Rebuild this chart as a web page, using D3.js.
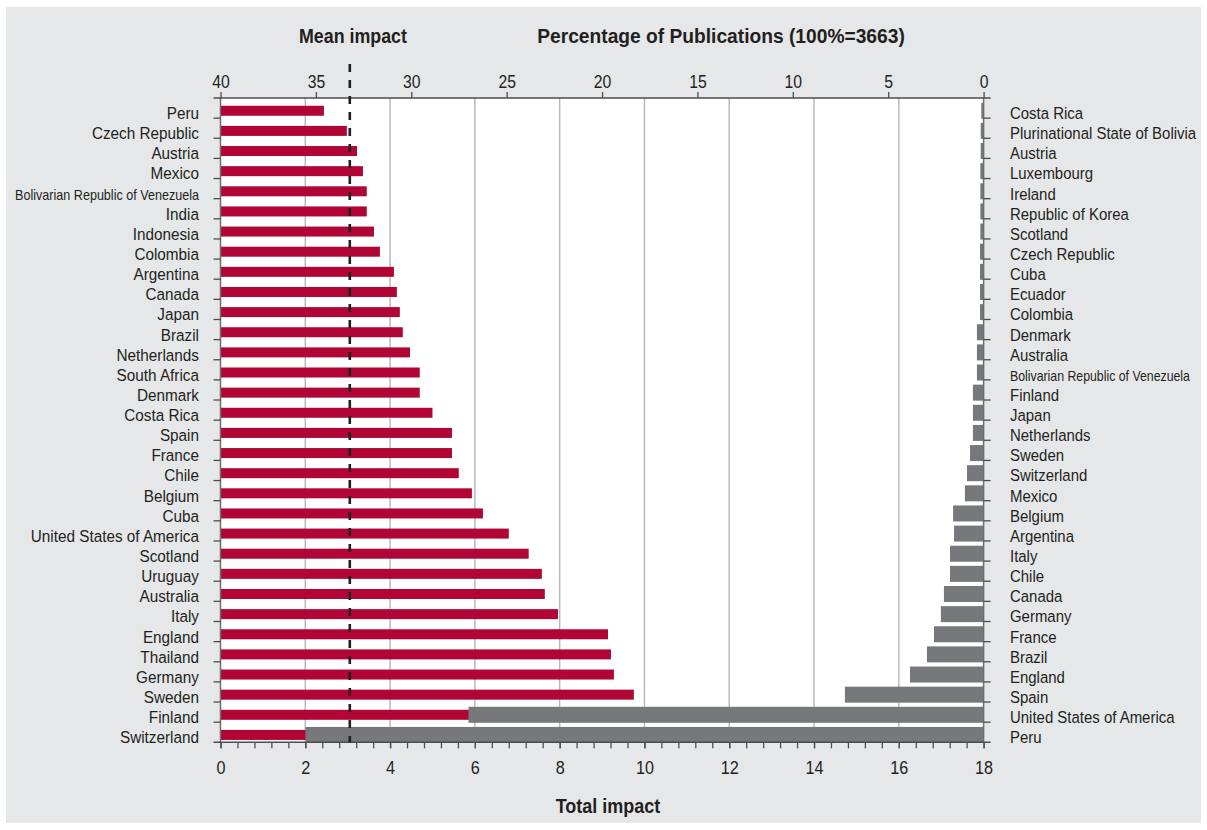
<!DOCTYPE html>
<html>
<head>
<meta charset="utf-8">
<script src="https://cdn.jsdelivr.net/npm/d3@7"></script>
<style>
  body { margin: 0; background: #fff; }
  text { font-family: "Liberation Sans", Arial, Helvetica, sans-serif; fill: #231f20; }
</style>
</head>
<body>
<svg id="chart" width="1207" height="830"></svg>
<script>
// left side: total impact per country (red bars)
var impactCountries = ["Peru", "Czech Republic", "Austria", "Mexico", "Bolivarian Republic of Venezuela", "India",
  "Indonesia", "Colombia", "Argentina", "Canada", "Japan", "Brazil", "Netherlands", "South Africa", "Denmark",
  "Costa Rica", "Spain", "France", "Chile", "Belgium", "Cuba", "United States of America", "Scotland", "Uruguay",
  "Australia", "Italy", "England", "Thailand", "Germany", "Sweden", "Finland", "Switzerland"];
var totalImpact = [2.44, 2.98, 3.22, 3.36, 3.45, 3.45, 3.62, 3.76, 4.09, 4.16, 4.23, 4.30, 4.47, 4.70, 4.70,
  5.00, 5.46, 5.46, 5.62, 5.93, 6.19, 6.80, 7.27, 7.58, 7.65, 7.96, 9.14, 9.21, 9.28, 9.75, 10.2, 10.9];

// right side: share of publications (grey bars)
var shareCountries = ["Costa Rica", "Plurinational State of Bolivia", "Austria", "Luxembourg", "Ireland",
  "Republic of Korea", "Scotland", "Czech Republic", "Cuba", "Ecuador", "Colombia", "Denmark", "Australia",
  "Bolivarian Republic of Venezuela", "Finland", "Japan", "Netherlands", "Sweden", "Switzerland", "Mexico",
  "Belgium", "Argentina", "Italy", "Chile", "Canada", "Germany", "France", "Brazil", "England", "Spain",
  "United States of America", "Peru"];
var pubShare = [0.12, 0.15, 0.15, 0.17, 0.17, 0.17, 0.17, 0.19, 0.19, 0.19, 0.19, 0.35, 0.35, 0.35, 0.56,
  0.56, 0.56, 0.71, 0.87, 0.98, 1.60, 1.55, 1.76, 1.76, 2.08, 2.24, 2.60, 2.97, 3.86, 7.27, 27.0, 35.55];

var meanImpact = 3.05;
var impactTicks = [0, 2, 4, 6, 8, 10, 12, 14, 16, 18];
var shareTicks = [40, 35, 30, 25, 20, 15, 10, 5, 0];

var plot = {x0: 220.5, x1: 983.6, y0: 98, y1: 742.3};
var red = "#b00535", grey = "#77787b", ink = "#4d4d4f";

// squeeze text horizontally round its anchor (no condensed face installed)
function narrow(sel, k) {
  sel.attr("transform", function() {
    var x = +this.getAttribute("x") || 0;
    return "translate(" + x + ",0) scale(" + k + ",1) translate(" + (-x) + ",0)";
  });
}

var svg = d3.select("#chart");
svg.append("rect").attr("x", 6).attr("y", 7).attr("width", 1195).attr("height", 816).attr("fill", "#e6e7e8");
svg.append("rect").attr("x", plot.x0).attr("y", plot.y0)
  .attr("width", plot.x1 - plot.x0).attr("height", plot.y1 - plot.y0).attr("fill", "#fff");

var xImpact = d3.scaleLinear().domain([0, 18]).range([plot.x0, plot.x1]);
var xShare = d3.scaleLinear().domain([40, 0]).range([plot.x0, plot.x1]);
var yL = d3.scaleBand().domain(impactCountries).range([plot.y0, plot.y1]);
var yR = d3.scaleBand().domain(shareCountries).range([plot.y0, plot.y1]);
var bw = yL.bandwidth();

// grid
svg.append("g").selectAll("line").data(impactTicks.slice(1, -1)).enter().append("line")
  .attr("x1", function(d) { return xImpact(d); }).attr("x2", function(d) { return xImpact(d); })
  .attr("y1", plot.y0).attr("y2", plot.y1)
  .attr("stroke", "#b9babc").attr("stroke-width", 1.5);

// red bars
svg.append("g").selectAll("rect").data(impactCountries).enter().append("rect")
  .attr("x", xImpact(0))
  .attr("y", function(d) { return yL(d) + bw / 2 + 2.7 - 5; })
  .attr("width", function(d, i) { return xImpact(totalImpact[i]) - xImpact(0); })
  .attr("height", 10).attr("fill", red);

// grey bars on top
svg.append("g").selectAll("rect").data(shareCountries).enter().append("rect")
  .attr("x", function(d, i) { return xShare(pubShare[i]); })
  .attr("y", function(d) { return yR(d) + bw / 2 + 2.7 - 8; })
  .attr("width", function(d, i) { return xShare(0) - xShare(pubShare[i]); })
  .attr("height", 16).attr("fill", grey);

// side axis lines + boundary ticks
var bounds = d3.range(impactCountries.length + 1).map(function(i) { return plot.y0 + i * bw; });
[[plot.x0, -7], [plot.x1, 7]].forEach(function(s) {
  svg.append("line").attr("x1", s[0]).attr("x2", s[0]).attr("y1", plot.y0).attr("y2", plot.y1)
    .attr("stroke", "#6d6e71").attr("stroke-width", 1.5);
  svg.append("g").selectAll("line").data(bounds.slice(1, -1)).enter().append("line")
    .attr("x1", s[0]).attr("x2", s[0] + s[1])
    .attr("y1", function(d) { return d; }).attr("y2", function(d) { return d; })
    .attr("stroke", ink).attr("stroke-width", 1.3);
});

// category labels
function labelSize(d) { return d.length > 30 ? 14 : 17; }
svg.append("g").selectAll("text").data(impactCountries).enter().append("text")
  .attr("x", 199).attr("y", function(d) { return yL(d) + bw / 2 + 11; })
  .attr("text-anchor", "end").attr("font-size", labelSize)
  .text(function(d) { return d; })
  .call(narrow, 0.9);
svg.append("g").selectAll("text").data(shareCountries).enter().append("text")
  .attr("x", 1010).attr("y", function(d) { return yR(d) + bw / 2 + 11; })
  .attr("font-size", labelSize)
  .text(function(d) { return d; })
  .call(narrow, 0.88);

// top axis (share)
var topAxis = svg.append("g").attr("transform", "translate(0," + plot.y0 + ")")
  .call(d3.axisTop(xShare).tickValues(shareTicks).tickSize(6).tickFormat(d3.format("d")));
topAxis.select(".domain").remove();
topAxis.selectAll("line").attr("stroke", ink).attr("stroke-width", 1.3);
topAxis.selectAll("text").attr("y", -10).attr("dy", null).attr("font-size", 17.5)
  .attr("font-family", null).style("fill", "#231f20").call(narrow, 0.9);
topAxis.append("line").attr("x1", plot.x0 - 7).attr("x2", plot.x1 + 7)
  .attr("stroke", ink).attr("stroke-width", 1.5);

// bottom axis (impact) with minor ticks
var bottom = svg.append("g").attr("transform", "translate(0," + plot.y1 + ")");
bottom.append("g").call(d3.axisBottom(xImpact).tickValues(d3.range(46).map(function(i) { return i * 0.4; }))
  .tickSize(6).tickFormat(""))
  .call(function(g) { g.select(".domain").remove(); g.selectAll("line").attr("stroke", ink).attr("stroke-width", 1.3); });
var bottomAxis = bottom.append("g").call(d3.axisBottom(xImpact).tickValues(impactTicks).tickSize(6));
bottomAxis.select(".domain").remove();
bottomAxis.selectAll("line").attr("stroke", ink).attr("stroke-width", 1.3);
bottomAxis.selectAll("text").attr("y", 32).attr("dy", null).attr("font-size", 18)
  .attr("font-family", null).style("fill", "#231f20").call(narrow, 0.9);
bottom.append("line").attr("x1", plot.x0 - 7).attr("x2", plot.x1 + 7)
  .attr("stroke", ink).attr("stroke-width", 1.5);

// mean impact dashed line
svg.append("line").attr("x1", xImpact(meanImpact)).attr("x2", xImpact(meanImpact))
  .attr("y1", 64).attr("y2", plot.y1)
  .attr("stroke", "#231f20").attr("stroke-width", 2.6).attr("stroke-dasharray", "8,8");

// titles
svg.append("text").attr("x", 353).attr("y", 43).attr("text-anchor", "middle")
  .attr("font-size", 19.5).attr("font-weight", "bold").text("Mean impact").call(narrow, 0.915);
svg.append("text").attr("x", 721).attr("y", 43).attr("text-anchor", "middle")
  .attr("font-size", 19.5).attr("font-weight", "bold").text("Percentage of Publications (100%=3663)").call(narrow, 0.985);
svg.append("text").attr("x", 608).attr("y", 813).attr("text-anchor", "middle")
  .attr("font-size", 20).attr("font-weight", "bold").text("Total impact").call(narrow, 0.9);
</script>
</body>
</html>
